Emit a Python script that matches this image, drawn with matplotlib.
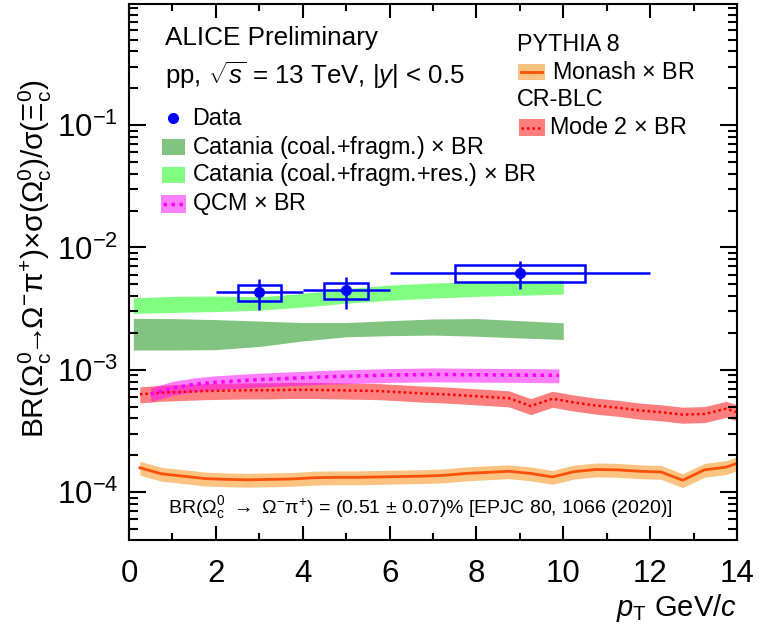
import numpy as np
import matplotlib
matplotlib.use("Agg")
import matplotlib.pyplot as plt
from matplotlib.patches import Rectangle
from matplotlib.ticker import LogLocator, MultipleLocator, NullFormatter

plt.rcParams['font.family'] = ['Liberation Sans', 'DejaVu Sans']
plt.rcParams['mathtext.fontset'] = 'custom'
plt.rcParams['mathtext.rm'] = 'Liberation Sans'
plt.rcParams['mathtext.it'] = 'Liberation Sans:italic'
plt.rcParams['mathtext.bf'] = 'Liberation Sans:bold'

# ALICE data points (pT bins)
data_x = [3.0, 5.0, 9.0]
data_xerr = [1.0, 1.0, 3.0]
data_y = [4.3e-3, 4.45e-3, 6.2e-3]
data_stat = [1.2e-3, 1.3e-3, 1.6e-3]
data_syst = [0.65e-3, 0.65e-3, 0.95e-3]

# Catania bands
cat_x = [0.1, 1, 2, 3, 4, 5, 6, 7, 8, 9, 10]
cat_lo = [1.45e-3, 1.45e-3, 1.46e-3, 1.55e-3, 1.72e-3, 1.86e-3, 1.90e-3, 1.92e-3, 1.88e-3, 1.82e-3, 1.77e-3]
cat_hi = [2.63e-3, 2.62e-3, 2.57e-3, 2.50e-3, 2.43e-3, 2.43e-3, 2.52e-3, 2.60e-3, 2.62e-3, 2.52e-3, 2.42e-3]
catres_lo = [2.89e-3, 2.94e-3, 2.99e-3, 3.07e-3, 3.25e-3, 3.50e-3, 3.70e-3, 3.85e-3, 3.98e-3, 4.07e-3, 4.15e-3]
catres_hi = [3.87e-3, 3.98e-3, 4.00e-3, 3.95e-3, 4.20e-3, 4.60e-3, 4.92e-3, 5.12e-3, 5.26e-3, 5.34e-3, 5.40e-3]

# QCM
qcm_x = [0.5, 1.0, 1.5, 2.0, 2.5, 3.0, 3.5, 4.0, 4.5, 5.0, 5.5, 6.0, 7.0, 8.0, 9.0, 9.9]
qcm_y = [6.3e-4, 7.1e-4, 7.6e-4, 7.9e-4, 8.1e-4, 8.3e-4, 8.45e-4, 8.6e-4, 8.75e-4, 8.85e-4,
         8.95e-4, 9.05e-4, 9.15e-4, 9.1e-4, 9.05e-4, 9.0e-4]
qcm_rel = 0.13

# PYTHIA 8
py_x = [0.25, 0.75, 1.25, 1.75, 2.25, 2.75, 3.25, 3.75, 4.25, 4.75, 5.25, 5.75, 6.25, 6.75,
        7.25, 7.75, 8.25, 8.75, 9.25, 9.75, 10.25, 10.75, 11.25, 11.75, 12.25, 12.75, 13.25, 13.75, 14.0]
mode2_y = [6.3e-4, 6.5e-4, 6.6e-4, 6.7e-4, 6.75e-4, 6.8e-4, 6.8e-4, 6.85e-4, 6.85e-4, 6.8e-4,
           6.75e-4, 6.7e-4, 6.55e-4, 6.4e-4, 6.3e-4, 6.15e-4, 6.0e-4, 5.85e-4, 5.05e-4, 5.8e-4,
           5.4e-4, 5.1e-4, 4.9e-4, 4.65e-4, 4.5e-4, 4.3e-4, 4.35e-4, 4.8e-4, 4.5e-4]
mode2_rel = 0.15
monash_y = [1.58e-4, 1.41e-4, 1.35e-4, 1.29e-4, 1.27e-4, 1.26e-4, 1.27e-4, 1.28e-4, 1.31e-4, 1.32e-4,
            1.32e-4, 1.33e-4, 1.34e-4, 1.35e-4, 1.37e-4, 1.42e-4, 1.45e-4, 1.48e-4, 1.42e-4, 1.33e-4,
            1.47e-4, 1.53e-4, 1.52e-4, 1.48e-4, 1.46e-4, 1.25e-4, 1.52e-4, 1.60e-4, 1.72e-4]
monash_rel = 0.13

blue = '#0000FF'
c_cat = '#80C480'
c_catres = '#80FF80'

fig = plt.figure(figsize=(7.59, 6.25), dpi=100)
ax = fig.add_axes([129 / 759, 85 / 625, 608 / 759, 536 / 625])

ax.fill_between(cat_x, cat_lo, cat_hi, color=c_cat, lw=0)
ax.fill_between(cat_x, catres_lo, catres_hi, color=c_catres, lw=0)

m2 = np.array(mode2_y)
ax.fill_between(py_x, m2 * (1 - mode2_rel), m2 * (1 + mode2_rel), color='#FF0000', alpha=0.5, lw=0)
ax.plot(py_x, m2, color='#FF0000', lw=1.8, ls=(0, (1, 1.2)))

q = np.array(qcm_y)
ax.fill_between(qcm_x, q * (1 - qcm_rel), q * (1 + qcm_rel), color='#FF00FF', alpha=0.5, lw=0)
ax.plot(qcm_x, q, color='#FF00FF', lw=2.5, ls=(0, (1, 1.3)))

mo = np.array(monash_y)
ax.fill_between(py_x, mo * (1 - monash_rel), mo * (1 + monash_rel), color='#F98905', alpha=0.5, lw=0)
ax.plot(py_x, mo, color='#FA500A', lw=2)

# data: syst boxes + stat errors
for x, xe, y, sy in zip(data_x, data_xerr, data_y, data_syst):
    ax.add_patch(Rectangle((x - xe / 2, y - sy), xe, 2 * sy, fill=False, ec=blue, lw=1.8, zorder=5))
ax.errorbar(data_x, data_y, xerr=data_xerr, yerr=data_stat, fmt='o', color=blue, ms=7,
            elinewidth=1.8, capsize=0, zorder=6)

ax.set_yscale('log')
ax.set_xlim(0, 14)
ax.set_ylim(4.06e-5, 0.976)
ax.xaxis.set_major_locator(MultipleLocator(2))
ax.xaxis.set_minor_locator(MultipleLocator(1))
ax.yaxis.set_major_locator(LogLocator(base=10, numticks=20))
ax.yaxis.set_minor_locator(LogLocator(base=10, subs=np.arange(2, 10), numticks=20))
ax.yaxis.set_minor_formatter(NullFormatter())
ax.tick_params(which='both', direction='in', top=True, right=True, width=1.5, labelsize=22.5)
ax.tick_params(axis='y', which='major', length=12.5, pad=8)
ax.tick_params(axis='y', which='minor', length=6.5)
ax.tick_params(axis='x', which='major', length=10, pad=14)
ax.tick_params(axis='x', which='minor', length=5)
for s in ax.spines.values():
    s.set_linewidth(1.5)

# texts
ax.text(0.059, 0.937, 'ALICE Preliminary', transform=ax.transAxes, fontsize=18.8, va='center')
ax.text(0.059, 0.868, r'pp, $\sqrt{s}$ = 13 TeV, |$y$| < 0.5', transform=ax.transAxes,
        fontsize=18.6, va='center')


def band_entry(x0, x1, y0, y1, color, alpha=1.0, line=None, ls='-', lw=2.0):
    ax.add_patch(Rectangle((x0, y0), x1 - x0, y1 - y0, transform=ax.transAxes, fc=color,
                           alpha=alpha, lw=0))
    if line:
        ym = 0.5 * (y0 + y1)
        ax.plot([x0 + 0.004, x1 - 0.004], [ym, ym], transform=ax.transAxes, color=line, ls=ls, lw=lw)


fs_leg = 16.8
ax.plot([0.073], [0.787], 'o', color=blue, ms=7, transform=ax.transAxes)
ax.text(0.1036, 0.787, 'Data', transform=ax.transAxes, fontsize=fs_leg, va='center')
band_entry(0.0543, 0.0921, 0.718, 0.748, c_cat)
ax.text(0.1036, 0.733, r'Catania (coal.+fragm.) $\times$ BR', transform=ax.transAxes, fontsize=fs_leg, va='center')
band_entry(0.0543, 0.0921, 0.666, 0.696, c_catres)
ax.text(0.1036, 0.681, r'Catania (coal.+fragm.+res.) $\times$ BR', transform=ax.transAxes, fontsize=fs_leg, va='center')
band_entry(0.0526, 0.0938, 0.610, 0.644, '#FF00FF', 0.5, '#FF00FF', (0, (1, 1.3)), 2.5)
ax.text(0.1036, 0.627, r'QCM $\times$ BR', transform=ax.transAxes, fontsize=fs_leg, va='center')

ax.text(0.638, 0.925, 'PYTHIA 8', transform=ax.transAxes, fontsize=fs_leg, va='center')
band_entry(0.640, 0.684, 0.858, 0.888, '#F98905', 0.5, '#FA500A', '-', 2.0)
ax.text(0.696, 0.873, r'Monash $\times$ BR', transform=ax.transAxes, fontsize=fs_leg, va='center')
ax.text(0.638, 0.821, 'CR-BLC', transform=ax.transAxes, fontsize=fs_leg, va='center')
band_entry(0.641, 0.684, 0.754, 0.785, '#FF0000', 0.5, '#FF0000', (0, (1, 1.2)), 1.8)
ax.text(0.691, 0.770, r'Mode 2 $\times$ BR', transform=ax.transAxes, fontsize=fs_leg, va='center')

ax.text(0.48, 0.06,
        r'BR($\Omega_{\rm c}^{0}$ $\rightarrow$ $\Omega^{-}\mathrm{\pi}^{+}$) = (0.51 $\pm$ 0.07)% [EPJC 80, 1066 (2020)]',
        transform=ax.transAxes, fontsize=14, ha='center', va='center')

fig.text(35 / 759, 1 - 259 / 625,
         r'BR($\Omega_{\rm c}^{0}\!\!\rightarrow\!\!\Omega^{-}\mathrm{\pi}^{+}$)$\times\mathrm{\sigma}$'
         r'($\Omega_{\rm c}^{0}$)/$\mathrm{\sigma}$($\Xi_{\rm c}^{0}$)',
         rotation=90, ha='center', va='center', fontsize=21.5)
fig.text(737 / 759, 1 - 608 / 625, r'$p_{\rm T}$ GeV/$c$', ha='right', va='center', fontsize=21)

fig.savefig('out.png', dpi=100)
